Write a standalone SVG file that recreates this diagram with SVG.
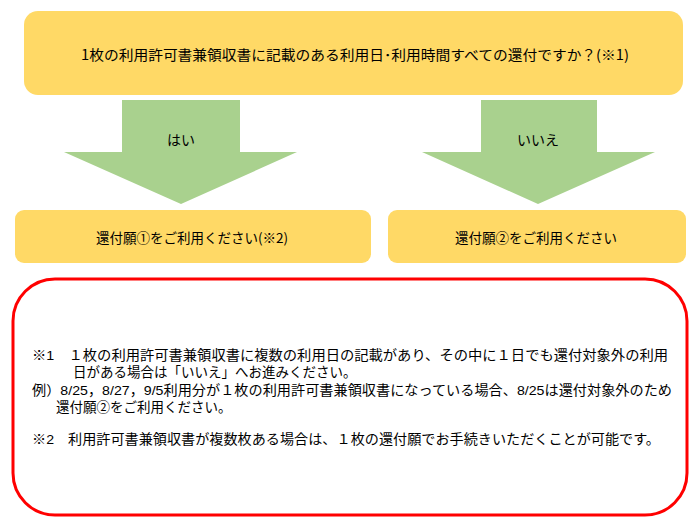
<svg xmlns="http://www.w3.org/2000/svg" width="700" height="524" viewBox="0 0 700 524">
<style>
.box{fill:#FFD966;}
.arrow{fill:#A9D18E;}
.t{font-family:"Noto Sans CJK JP","Noto Sans",sans-serif;fill:#000;}
.n{font-family:"Liberation Sans","Noto Sans CJK JP",sans-serif;fill:#000;font-size:13.5px;}
.c{text-anchor:middle;dominant-baseline:central;}
</style>
<rect width="700" height="524" fill="#fff"/>
<g id="question">
<rect class="box" x="24" y="11" width="659" height="84" rx="14"/>
<text class="t c" x="355" y="54" font-size="14" textLength="548" lengthAdjust="spacingAndGlyphs">1枚の利用許可書兼領収書に記載のある利用日･利用時間すべての還付ですか？(※1)</text>
</g>
<g id="connectors">
<polygon class="arrow" points="122,100 240,100 240,152 297,152 181,204 64,152 122,152"/>
<text class="t c" x="181" y="139" font-size="14">はい</text>
<polygon class="arrow" points="481,100 597,100 597,152 655,152 538,204 422,152 481,152"/>
<text class="t c" x="538" y="139" font-size="14">いいえ</text>
</g>
<g id="yes">
<rect class="box" x="15" y="210" width="356" height="53" rx="9"/>
<text class="t c" x="192" y="237" font-size="13.5">還付願①をご利用ください(※2)</text>
</g>
<g id="no">
<rect class="box" x="388" y="210" width="298" height="53" rx="9"/>
<text class="t c" x="536" y="237" font-size="13.5">還付願②をご利用ください</text>
</g>
<g id="notes">
<rect x="13" y="279" width="674" height="236" rx="42" fill="#fff" stroke="#FF0000" stroke-width="3"/>
<text class="n"><tspan x="32" y="360" textLength="636" lengthAdjust="spacingAndGlyphs">※1　１枚の利用許可書兼領収書に複数の利用日の記載があり、その中に１日でも還付対象外の利用</tspan><tspan x="73" y="377">日がある場合は「いいえ」へお進みください。</tspan><tspan x="32" y="395" textLength="640" lengthAdjust="spacingAndGlyphs">例）8/25，8/27，9/5利用分が１枚の利用許可書兼領収書になっている場合、8/25は還付対象外のため</tspan><tspan x="56" y="412">還付願②をご利用ください。</tspan></text>
<text class="n" x="32" y="444" textLength="628" lengthAdjust="spacingAndGlyphs">※2　利用許可書兼領収書が複数枚ある場合は、１枚の還付願でお手続きいただくことが可能です。</text>
</g>
</svg>
